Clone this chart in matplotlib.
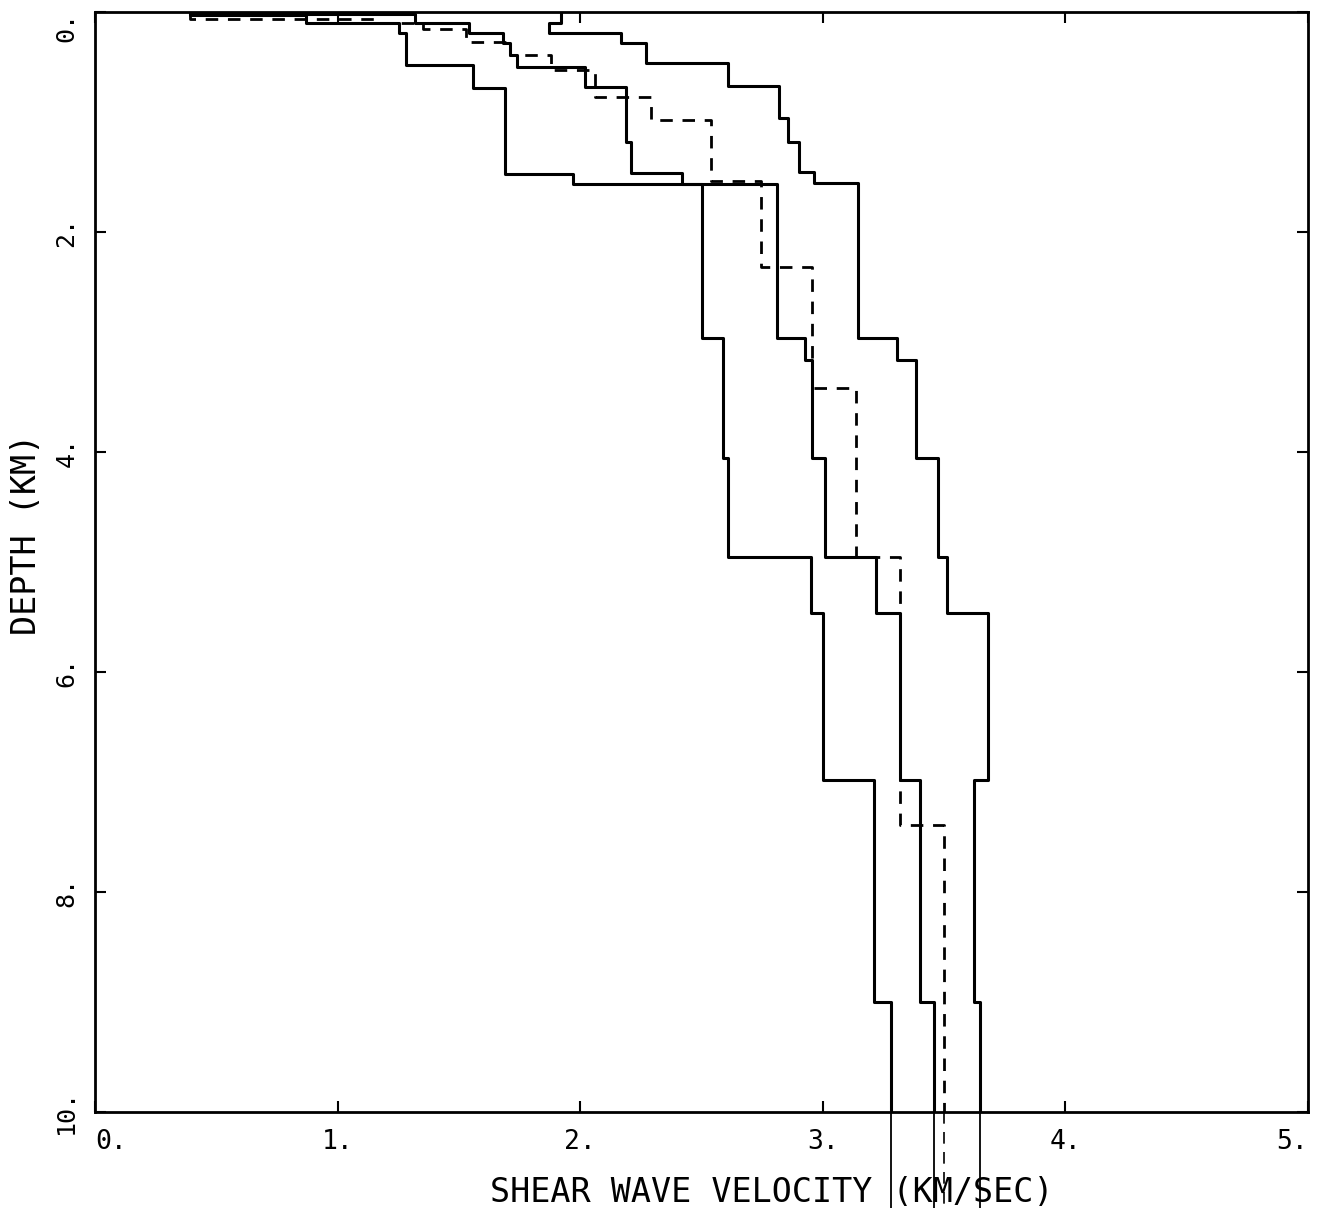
import numpy as np
import matplotlib.pyplot as plt

# shear wave velocity models: layer velocity (km/sec) and depth of each layer bottom (km)
vel_a = [0.39, 0.87, 1.255, 1.28, 1.56, 1.69, 1.97, 2.50, 2.59, 2.61, 2.95, 3.00, 3.21, 3.28]
bot_a = [0.03, 0.10, 0.19, 0.48, 0.69, 1.47, 1.56, 2.96, 4.05, 4.95, 5.46, 6.98, 9.00]

vel_b = [0.39, 1.32, 1.54, 1.68, 1.71, 1.74, 2.02, 2.19, 2.21, 2.42, 2.81, 2.925, 2.955,
         3.01, 3.22, 3.32, 3.40, 3.46]
bot_b = [0.02, 0.10, 0.19, 0.28, 0.39, 0.50, 0.68, 1.18, 1.46, 1.56, 2.96, 3.16, 4.05,
         4.95, 5.46, 6.98, 9.00]

vel_c = [1.92, 1.87, 2.17, 2.27, 2.61, 2.82, 2.855, 2.90, 2.965, 3.145, 3.305, 3.385,
         3.475, 3.51, 3.68, 3.625, 3.65]
bot_c = [0.10, 0.19, 0.28, 0.46, 0.67, 0.96, 1.18, 1.45, 1.55, 2.96, 3.16, 4.05,
         4.95, 5.46, 6.98, 9.00]

# dashed model
vel_d = [0.39, 1.17, 1.35, 1.53, 1.71, 1.88, 2.06, 2.29, 2.54, 2.745, 2.955, 3.135, 3.32, 3.50]
bot_d = [0.06, 0.10, 0.15, 0.27, 0.39, 0.53, 0.77, 0.98, 1.54, 2.32, 3.42, 4.95, 7.39]

xticks = [0, 1, 2, 3, 4, 5]
xticklabels = ['0.', '1.', '2.', '3.', '4.', '5.']
yticks = [0, 2, 4, 6, 8, 10]
yticklabels = ['0.', '2.', '4.', '6.', '8.', '10.']

FONT = 'DejaVu Sans Mono'
BASE = 10.0       # bottom of the plot box
TAIL = 10.87      # lines run past the box to the page edge


def step_xy(vel, bot, base):
    '''turn layer velocities / bottoms into a staircase polyline'''
    d = [0.0] + list(bot) + [base]
    x = np.repeat(vel, 2)
    y = np.repeat(d, 2)[1:-1]
    return x, y


fig = plt.figure(figsize=(13.19, 12.08), dpi=100)
ax = fig.add_axes([95 / 1319, 96 / 1208, 1213 / 1319, 1100 / 1208])

for vel, bot, dashed in [(vel_a, bot_a, False), (vel_b, bot_b, False),
                         (vel_c, bot_c, False), (vel_d, bot_d, True)]:
    x, y = step_xy(vel, bot, BASE)
    if dashed:
        ax.plot(x, y, color='black', lw=2.0, dashes=(4.5, 3.5))
        ax.plot([vel[-1], vel[-1]], [BASE, TAIL], color='black', lw=1.2,
                dashes=(7, 5), clip_on=False)
    else:
        ax.plot(x, y, color='black', lw=2.2)
        ax.plot([vel[-1], vel[-1]], [BASE, TAIL], color='black', lw=1.3, clip_on=False)

ax.set_xlim(0, 5)
ax.set_ylim(10, 0)

for s in ax.spines.values():
    s.set_linewidth(2.0)

ax.set_xticks(xticks)
ax.set_xticklabels(xticklabels, fontfamily=FONT, fontsize=19)
ax.set_yticks(yticks)
ax.set_yticklabels(yticklabels, fontfamily=FONT, fontsize=18, rotation=90, va='center')
# keep the end labels inside the page
ax.get_xticklabels()[0].set_ha('left')
ax.get_xticklabels()[-1].set_ha('right')
ax.get_yticklabels()[0].set_va('top')
ax.tick_params(direction='in', length=8, width=1.5, top=True, right=True)
ax.tick_params(axis='x', pad=12)
ax.tick_params(axis='y', pad=12)

ax.set_xlabel('SHEAR WAVE VELOCITY (KM/SEC)', fontfamily=FONT, fontsize=24)
ax.xaxis.set_label_coords(0.558, -0.058)
ax.set_ylabel('DEPTH (KM)', fontfamily=FONT, fontsize=24)
ax.yaxis.set_label_coords(-0.043, 0.525)

fig.savefig('out.png', dpi=100)
